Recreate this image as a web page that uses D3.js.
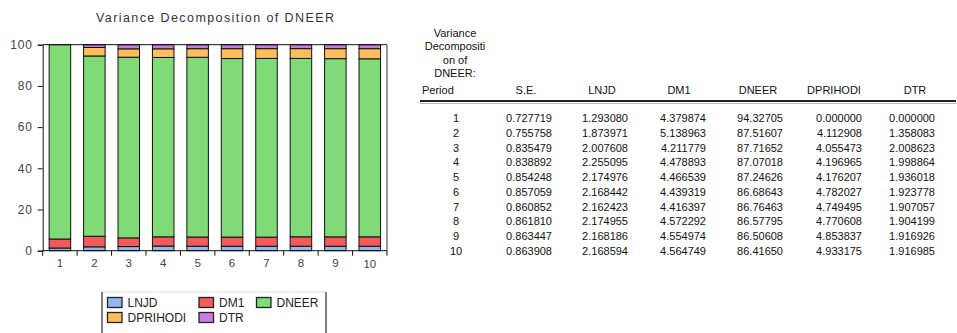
<!DOCTYPE html>
<html>
<head>
<meta charset="utf-8">
<script src="https://cdn.jsdelivr.net/npm/d3@7"></script>
<style>
  html, body { margin: 0; padding: 0; background: #fff; }
  svg { display: block; font-family: "Liberation Sans", Arial, sans-serif; }
</style>
</head>
<body>
<svg id="root" width="957" height="333"></svg>
<script>
// Variance decomposition of DNEER, periods 1..10
const periods  = [1, 2, 3, 4, 5, 6, 7, 8, 9, 10];
const se       = ["0.727719","0.755758","0.835479","0.838892","0.854248","0.857059","0.860852","0.861810","0.863447","0.863908"];
const lnjd     = [1.293080, 1.873971, 2.007608, 2.255095, 2.174976, 2.168442, 2.162423, 2.174955, 2.168186, 2.168594];
const dm1      = [4.379874, 5.138963, 4.211779, 4.478893, 4.466539, 4.439319, 4.416397, 4.572292, 4.554974, 4.564749];
const dneer    = [94.32705, 87.51607, 87.71652, 87.07018, 87.24626, 86.68643, 86.76463, 86.57795, 86.50608, 86.41650];
const dprihodi = [0.000000, 4.112908, 4.055473, 4.196965, 4.176207, 4.782027, 4.749495, 4.770608, 4.853837, 4.933175];
const dtr      = [0.000000, 1.358083, 2.008623, 1.998864, 1.936018, 1.923778, 1.907057, 1.904199, 1.916926, 1.916985];
const yTicks   = [0, 20, 40, 60, 80, 100];

const seriesNames = ["LNJD", "DM1", "DNEER", "DPRIHODI", "DTR"];
const seriesVals  = [lnjd, dm1, dneer, dprihodi, dtr];
const colors = ["#8db8f2", "#f45a5a", "#80da78", "#ffbd5c", "#c47fe0"];

// formatted table strings
const fmt6 = d3.format(".6f"), fmt5 = d3.format(".5f");
const fmtCol = (v, i) => i === 2 ? fmt5(v) : fmt6(v);

const svg = d3.select("#root");

// ---------- stacked bar chart ----------
const plot = { left: 42.7, right: 387, top: 44.7, bottom: 250.7 };

const rows = periods.map((p, i) => {
  const r = { period: p };
  seriesNames.forEach((n, k) => r[n] = seriesVals[k][i]);
  return r;
});
const stacked = d3.stack().keys(seriesNames)(rows);

const x = d3.scaleBand().domain(periods).range([plot.left, plot.right])
  .paddingInner(0.375).paddingOuter(0.1875);
const y = d3.scaleLinear().domain([0, 100]).range([plot.bottom, plot.top]);

svg.append("text")
  .attr("x", 215).attr("y", 22)
  .attr("text-anchor", "middle")
  .attr("font-size", 12.5).attr("fill", "#333")
  .attr("textLength", 238).attr("lengthAdjust", "spacing")
  .text("Variance Decomposition of DNEER");

// bars
const g = svg.append("g");
g.selectAll("g.series").data(stacked).join("g")
  .attr("class", "series")
  .attr("fill", (d, i) => colors[i])
  .selectAll("rect").data(d => d).join("rect")
  .attr("x", d => x(d.data.period))
  .attr("width", x.bandwidth())
  .attr("y", d => y(d[1]))
  .attr("height", d => Math.max(0, y(d[0]) - y(d[1])))
  .attr("stroke", "#111").attr("stroke-width", 1);

// frame
svg.append("line").attr("x1", plot.left).attr("x2", plot.right)
  .attr("y1", plot.top).attr("y2", plot.top).attr("stroke", "#111");
svg.append("line").attr("x1", plot.right).attr("x2", plot.right)
  .attr("y1", plot.top).attr("y2", plot.bottom).attr("stroke", "#777").attr("stroke-width", 1.5);

// y axis
const yAxis = svg.append("g").attr("transform", `translate(${plot.left},0)`)
  .call(d3.axisLeft(y).tickValues(yTicks).tickSize(5).tickPadding(5));
yAxis.select(".domain").attr("stroke", "#111");
yAxis.selectAll(".tick line").attr("stroke", "#111");
yAxis.selectAll(".tick text").attr("font-size", 12).attr("fill", "#444")
  .attr("font-family", "Liberation Sans, Arial, sans-serif").attr("letter-spacing", 0.8);

// x axis: ticks on band boundaries, labels at band centres
const xAxisG = svg.append("g");
xAxisG.append("line").attr("x1", plot.left).attr("x2", plot.right)
  .attr("y1", plot.bottom).attr("y2", plot.bottom).attr("stroke", "#111");
const bounds = periods.map(p => x(p) - x.step() * x.paddingInner() / 2).concat([plot.right]);
bounds[0] = plot.left;
xAxisG.selectAll("line.tk").data(bounds).join("line").attr("class", "tk")
  .attr("x1", d => d).attr("x2", d => d)
  .attr("y1", plot.bottom).attr("y2", plot.bottom + 5).attr("stroke", "#111");
xAxisG.selectAll("text").data(periods).join("text")
  .attr("x", d => x(d) + x.bandwidth() / 2)
  .attr("y", d => d === 10 ? 268 : 267)
  .attr("text-anchor", "middle").attr("font-size", 11.5).attr("fill", "#444")
  .text(d => d);

// legend
const legend = svg.append("g");
legend.append("line").attr("x1", 102).attr("x2", 326).attr("y1", 292).attr("y2", 292)
  .attr("stroke", "#ddd");
legend.append("line").attr("x1", 102).attr("x2", 102).attr("y1", 292).attr("y2", 333)
  .attr("stroke", "#555").attr("stroke-width", 1.5);
legend.append("line").attr("x1", 326).attr("x2", 326).attr("y1", 292).attr("y2", 333)
  .attr("stroke", "#555").attr("stroke-width", 1.5);
const legPos = [[107, 297], [198.5, 297], [256, 297], [107, 312], [198.5, 312]];
const items = legend.selectAll("g.item").data(seriesNames).join("g")
  .attr("class", "item")
  .attr("transform", (d, i) => `translate(${legPos[i][0]},${legPos[i][1]})`);
items.append("rect").attr("x", 0.5).attr("y", 0.5).attr("width", 14.5).attr("height", 10)
  .attr("fill", (d, i) => colors[i]).attr("stroke", "#222").attr("stroke-width", 1.3);
items.append("text").attr("x", 20.5).attr("y", 9.5)
  .attr("font-size", 12).attr("fill", "#222").text(d => d);

// ---------- table ----------
const tbl = svg.append("g").attr("font-size", 11).attr("fill", "#111");
const headLines = ["Variance", "Decompositi", "on of", "DNEER:"];
tbl.selectAll("text.hl").data(headLines).join("text").attr("class", "hl")
  .attr("x", 455).attr("y", (d, i) => 37 + i * 13.3)
  .attr("text-anchor", "middle").text(d => d);
tbl.append("text").attr("x", 422).attr("y", 94).text("Period");

const colNames = ["S.E.", "LNJD", "DM1", "DNEER", "DPRIHODI", "DTR"];
const colCenters = [526, 602, 679, 758, 834, 915];
const colRight = [552, 628, 706, 783, 862, 935];
tbl.selectAll("text.ch").data(colNames).join("text").attr("class", "ch")
  .attr("x", (d, i) => colCenters[i]).attr("y", 94)
  .attr("text-anchor", "middle").text(d => d);

tbl.append("line").attr("x1", 420).attr("x2", 956).attr("y1", 101).attr("y2", 101)
  .attr("stroke", "#222").attr("stroke-width", 2);
tbl.append("line").attr("x1", 420).attr("x2", 956).attr("y1", 103.5).attr("y2", 103.5)
  .attr("stroke", "#bbb").attr("stroke-width", 1);

const rowY = d3.scaleLinear().domain([1, 10]).range([122, 255]);
const body = tbl.selectAll("g.row").data(periods).join("g").attr("class", "row")
  .attr("transform", d => `translate(0,${rowY(d)})`);
body.append("text").attr("x", 456).attr("text-anchor", "middle").text(d => d);
body.append("text").attr("x", colRight[0]).attr("text-anchor", "end")
  .text((d, i) => se[i]);
seriesVals.forEach((vals, k) => {
  body.append("text").attr("x", colRight[k + 1]).attr("text-anchor", "end")
    .text((d, i) => fmtCol(vals[i], k));
});
</script>
</body>
</html>
